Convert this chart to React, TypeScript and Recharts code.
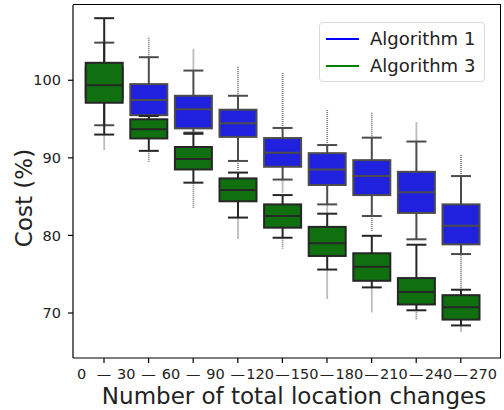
import { Bar, ComposedChart, Label, XAxis, YAxis } from 'recharts';

// bin edges of "number of total location changes"
const edges = [0, 30, 60, 90, 120, 150, 180, 210, 240, 270];
const categories = edges.slice(0, -1).map((e, i) => `${e}—${edges[i + 1]}`);
const yTicks = [70, 80, 90, 100];

// Algorithm 1 (blue) box stats
const a1Low = [94.2, 93.0, 93.25, 89.6, 87.2, 84.0, 82.5, 79.5, 77.6];
const a1Q1 = [97.8, 95.5, 93.8, 92.7, 88.85, 86.5, 85.2, 82.9, 78.85];
const a1Med = [99.0, 97.45, 96.25, 94.45, 90.65, 88.5, 87.65, 85.55, 81.25];
const a1Q3 = [101.6, 99.5, 98.0, 96.2, 92.55, 90.6, 89.7, 88.2, 84.0];
const a1High = [104.85, 102.97, 101.25, 98.0, 93.85, 91.65, 92.6, 92.1, 87.65];
const a1OutLow = [null, null, null, 88.3, 85.5, 82.9, 80.5, null, null];
const a1OutHigh = [null, 105.6, 104.1, 101.75, 101.0, 96.25, 95.8, 94.65, 90.35];

// Algorithm 3 (green) box stats
const a3Low = [93.0, 90.9, 86.8, 82.3, 79.7, 75.6, 73.3, 70.35, 68.4];
const a3Q1 = [97.1, 92.5, 88.5, 84.4, 81.0, 77.35, 74.15, 71.1, 69.15];
const a3Med = [99.35, 93.7, 89.85, 85.85, 82.5, 79.0, 75.95, 72.7, 70.75];
const a3Q3 = [102.25, 94.97, 91.4, 87.35, 84.0, 81.1, 77.7, 74.5, 72.3];
const a3High = [108.0, 95.4, 93.1, 88.1, 85.2, 82.8, 79.95, 78.8, 73.0];
const a3OutLow = [91.0, 89.5, 83.5, 79.6, 78.3, 71.8, 70.1, 69.1, 67.55];
const a3OutHigh = [null, null, null, null, null, null, null, null, 77.5];

type Stats = {
  low: number[];
  q1: number[];
  med: number[];
  q3: number[];
  high: number[];
  outLow: (number | null)[];
  outHigh: (number | null)[];
  fill: string;
  edge: string;
};

const algo1: Stats = {
  low: a1Low, q1: a1Q1, med: a1Med, q3: a1Q3, high: a1High,
  outLow: a1OutLow, outHigh: a1OutHigh, fill: '#2020df', edge: '#4c4c4c',
};
const algo3: Stats = {
  low: a3Low, q1: a3Q1, med: a3Med, q3: a3Q3, high: a3High,
  outLow: a3OutLow, outHigh: a3OutHigh, fill: '#107010', edge: '#262626',
};

const data = categories.map((cat, i) => ({
  cat,
  i,
  a1: [a1Q1[i], a1Q3[i]],
  a3: [a3Q1[i], a3Q3[i]],
}));

const font = 'DejaVu Sans, sans-serif';

function boxShape(s: Stats) {
  return (props: any) => {
    const { x, y, width, height, payload } = props;
    const i = payload.i;
    const top = Math.min(y, y + height);
    const h = Math.abs(height);
    const q1 = s.q1[i];
    const q3 = s.q3[i];
    const ppu = h / (q3 - q1);
    const py = (v: number) => top + (q3 - v) * ppu;
    const cx = x + width / 2;
    const cap = width * 0.27;
    const oLo = s.outLow[i];
    const oHi = s.outHigh[i];
    return (
      <g>
        {oLo != null && (
          <line x1={cx} x2={cx} y1={py(s.low[i])} y2={py(oLo)} stroke="#7a7a7a" strokeWidth={1.8} strokeDasharray="1 1" />
        )}
        {oHi != null && (
          <line x1={cx} x2={cx} y1={py(s.high[i])} y2={py(oHi)} stroke="#7a7a7a" strokeWidth={1.8} strokeDasharray="1 1" />
        )}
        <line x1={cx} x2={cx} y1={py(q1)} y2={py(s.low[i])} stroke={s.edge} strokeWidth={2} />
        <line x1={cx} x2={cx} y1={py(q3)} y2={py(s.high[i])} stroke={s.edge} strokeWidth={2} />
        <line x1={cx - cap} x2={cx + cap} y1={py(s.low[i])} y2={py(s.low[i])} stroke={s.edge} strokeWidth={2} />
        <line x1={cx - cap} x2={cx + cap} y1={py(s.high[i])} y2={py(s.high[i])} stroke={s.edge} strokeWidth={2} />
        <rect x={x} y={top} width={width} height={h} fill={s.fill} stroke={s.edge} strokeWidth={2} />
        <line x1={x} x2={x + width} y1={py(s.med[i])} y2={py(s.med[i])} stroke={s.edge} strokeWidth={2} />
      </g>
    );
  };
}

function XTick(props: any) {
  const { x, y, payload } = props;
  const i = payload.index;
  const half = payload.offset > 0 ? payload.offset : 22.3;
  const style = { fontSize: 14.5, fill: '#222', fontFamily: font };
  return (
    <g>
      <text x={x - half} y={y} dy="0.71em" textAnchor="middle" style={style}>{edges[i]}</text>
      <text x={x} y={y} dy="0.71em" textAnchor="middle" style={style}>—</text>
      {i === categories.length - 1 && (
        <text x={x + half} y={y} dy="0.71em" textAnchor="middle" style={style}>{edges[i + 1]}</text>
      )}
    </g>
  );
}

function LegendBox() {
  const row = (color: string, text: string, top: number) => (
    <div style={{ position: 'absolute', left: 0, top, height: 26, width: '100%' }}>
      <div style={{ position: 'absolute', left: 6, top: 12, width: 33, height: 2, background: color }} />
      <div style={{ position: 'absolute', left: 50, top: 1, fontSize: 18, fontFamily: font, color: '#222', lineHeight: '24px', whiteSpace: 'nowrap' }}>
        {text}
      </div>
    </div>
  );
  return (
    <div
      style={{
        position: 'absolute', left: 319, top: 22, width: 166, height: 60,
        border: '1px solid #d9d9d9', borderRadius: 4, background: 'rgba(255,255,255,0.8)', boxSizing: 'border-box',
      }}
    >
      {row('#0000ff', 'Algorithm 1', 3)}
      {row('#008000', 'Algorithm 3', 30)}
    </div>
  );
}

export default function App() {
  const tickStyle = { fontSize: 14.5, fill: '#222', fontFamily: font };
  return (
    <div style={{ position: 'absolute', left: 0, top: 0, width: 504, height: 410, background: '#fff' }}>
      <ComposedChart width={504} height={410} data={data} margin={{ top: 5, right: 3, left: 0, bottom: 0 }}>
        <XAxis
          xAxisId="a1"
          dataKey="cat"
          height={52}
          padding={{ left: 8.7, right: 17.9 }}
          axisLine={{ stroke: '#000', strokeWidth: 1.2 }}
          tickLine={{ stroke: '#000', strokeWidth: 1.2 }}
          tickSize={5}
          tickMargin={6}
          interval={0}
          tick={<XTick />}
        >
          <Label
            content={() => (
              <text x={294} y={404} textAnchor="middle" style={{ fontSize: 23, fill: '#222', fontFamily: font }}>
                Number of total location changes
              </text>
            )}
          />
        </XAxis>
        <XAxis xAxisId="a3" dataKey="cat" hide padding={{ left: 8.7, right: 17.9 }} />
        <YAxis
          type="number"
          domain={[64.2, 109.7]}
          allowDataOverflow
          ticks={yTicks}
          width={73}
          axisLine={{ stroke: '#000', strokeWidth: 1.2 }}
          tickLine={{ stroke: '#000', strokeWidth: 1.2 }}
          tickSize={5}
          tickMargin={7}
          tick={tickStyle}
        >
          <Label
            content={() => (
              <text
                transform="translate(32,198) rotate(-90)"
                textAnchor="middle"
                style={{ fontSize: 23, fill: '#222', fontFamily: font }}
              >
                Cost (%)
              </text>
            )}
          />
        </YAxis>
        <Bar
          xAxisId="a1"
          dataKey="a1"
          name="Algorithm 1"
          barSize={37}
          shape={boxShape(algo1)}
          isAnimationActive={false}
        />
        <Bar
          xAxisId="a3"
          dataKey="a3"
          name="Algorithm 3"
          barSize={37}
          shape={boxShape(algo3)}
          isAnimationActive={false}
        />
      </ComposedChart>
      {/* top and right spines of the axes frame */}
      <div
        style={{
          position: 'absolute', left: 73, top: 4.4, width: 428, height: 354,
          borderTop: '1.2px solid #000', borderRight: '1.2px solid #000', boxSizing: 'border-box', pointerEvents: 'none',
        }}
      />
      <LegendBox />
    </div>
  );
}
